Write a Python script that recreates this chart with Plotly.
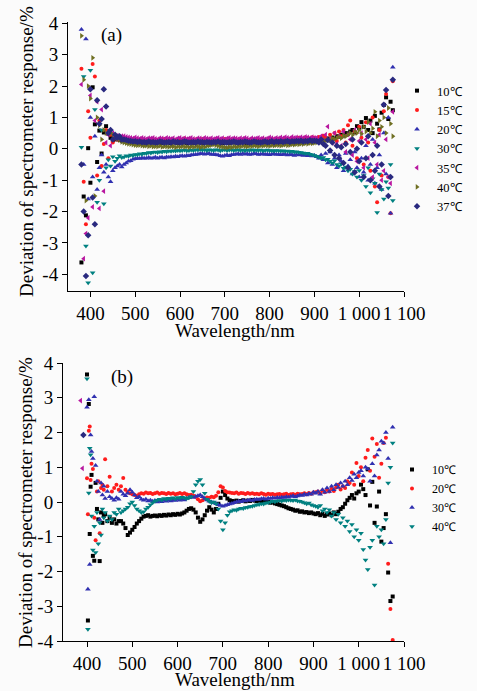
import plotly.graph_objects as go

# ---------------- wavelength grids (nm) ----------------
WL_A_LEFT = [380, 385, 390, 395, 400, 405, 410, 415, 420, 425,
             430, 435, 440, 445, 450, 455, 460, 465, 470]
WL_B_LEFT = [400, 402, 404, 406, 408, 410, 413, 416, 419, 422, 425,
             428, 431, 434, 437, 440, 445, 450, 455, 460, 465, 470]
WL_MID = [475, 480, 485, 490, 495, 500, 505, 510, 515, 520,
          525, 530, 535, 540, 545, 550, 555, 560, 565, 570,
          575, 580, 585, 590, 595, 600, 605, 610, 615, 620,
          625, 630, 635, 640, 645, 650, 655, 660, 665, 670,
          675, 680, 685, 690, 695, 700, 705, 710, 715, 720,
          725, 730, 735, 740, 745, 750, 755, 760, 765, 770,
          775, 780, 785, 790, 795, 800, 805, 810, 815, 820,
          825, 830, 835, 840, 845, 850, 855, 860, 865, 870,
          875, 880, 885, 890, 895, 900]
WL_RIGHT = [905, 910, 915, 920, 925, 930, 935, 940, 945, 950,
            955, 960, 965, 970, 975, 980, 985, 990, 995, 1000,
            1005, 1010, 1015, 1020, 1025, 1030, 1035, 1040, 1045, 1050,
            1055, 1060, 1065, 1070, 1075]

# ---------------- panel (a) ----------------
A10_LEFT = [-3.62, -1.52, -2.12, 0.02, -1.08, 1.96, 0.78, -0.42, 0.58, -0.15,
            0.52, 0.72, 0.48, 0.35, 0.28, 0.3, 0.32, 0.28, 0.26]
A10_MID = [0.24, 0.22, 0.2, 0.23, 0.19, 0.21, 0.2, 0.18, 0.22, 0.2,
           0.19, 0.21, 0.2, 0.22, 0.18, 0.2, 0.21, 0.19, 0.2, 0.22,
           0.2, 0.18, 0.21, 0.2, 0.19, 0.22, 0.2, 0.21, 0.18, 0.2,
           0.22, 0.19, 0.2, 0.21, 0.2, 0.18, 0.2, 0.22, 0.19, 0.21,
           0.2, 0.19, 0.22, 0.2, 0.18, 0.21, 0.2, 0.19, 0.22, 0.2,
           0.21, 0.19, 0.2, 0.22, 0.2, 0.18, 0.21, 0.2, 0.22, 0.19,
           0.2, 0.21, 0.22, 0.2, 0.19, 0.23, 0.21, 0.2, 0.22, 0.21,
           0.23, 0.2, 0.22, 0.24, 0.21, 0.23, 0.22, 0.25, 0.22, 0.24,
           0.23, 0.25, 0.24, 0.22, 0.26, 0.24]
A10_RIGHT = [0.25, 0.28, 0.24, 0.3, 0.27, 0.33, 0.3, 0.36, 0.32, 0.4,
             0.38, 0.45, 0.42, 0.5, 0.48, 0.55, 0.6, 0.52, 0.72, 0.65,
             0.85, 0.7, 0.98, 0.6, 0.9, 0.5, 1.05, 0.8, 0.62, 1.15,
             1.4, 1.64, 0.95, 1.5, 1.23]

A15_LEFT = [2.55, -1.05, -2.4, 1.2, 0.35, 2.7, 2.3, -0.85, 0.9, -0.55,
            0.15, 0.6, -0.3, 0.45, 0.2, 0.38, 0.3, 0.35, 0.3]
A15_MID = [0.3, 0.28, 0.27, 0.3, 0.29, 0.26, 0.28, 0.3, 0.27, 0.29,
           0.28, 0.31, 0.27, 0.29, 0.3, 0.28, 0.26, 0.29, 0.31, 0.28,
           0.27, 0.3, 0.29, 0.28, 0.3, 0.27, 0.29, 0.33, 0.28, 0.3,
           0.29, 0.27, 0.3, 0.28, 0.29, 0.31, 0.28, 0.27, 0.3, 0.29,
           0.28, 0.3, 0.27, 0.29, 0.28, 0.31, 0.29, 0.27, 0.3, 0.28,
           0.29, 0.3, 0.28, 0.27, 0.3, 0.29, 0.28, 0.31, 0.29, 0.28,
           0.3, 0.27, 0.29, 0.3, 0.28, 0.31, 0.29, 0.3, 0.32, 0.29,
           0.31, 0.3, 0.33, 0.31, 0.3, 0.34, 0.32, 0.31, 0.35, 0.33,
           0.32, 0.36, 0.34, 0.33, 0.37, 0.35]
A15_RIGHT = [0.33, 0.38, 0.3, 0.42, 0.35, 0.28, 0.45, 0.32, 0.5, 0.25,
             0.55, 0.4, 0.6, 0.2, 0.75, 0.9, 0.1, 0.55, -0.3, 0.7,
             0.35, -0.5, 0.85, 0.2, -0.7, 1.0, -1.2, -1.7, 0.6, -0.85,
             1.2, 1.75, -0.9, -2.05, 2.15]

A20_LEFT = [3.8, -0.5, 3.5, -1.6, 1.0, -0.9, 0.4, -1.3, -0.6, -0.2,
            -0.75, -0.5, -0.9, -1.05, -0.7, -0.6, -0.55, -0.5, -0.58]
A20_MID = [-0.5, -0.45, -0.4, -0.38, -0.33, -0.32, -0.3, -0.31, -0.29, -0.3,
           -0.3, -0.28, -0.3, -0.29, -0.27, -0.3, -0.28, -0.27, -0.29, -0.26,
           -0.27, -0.25, -0.26, -0.24, -0.25, -0.23, -0.22, -0.24, -0.21, -0.22,
           -0.2, -0.19, -0.18, -0.17, -0.16, -0.15, -0.17, -0.16, -0.15, -0.18,
           -0.17, -0.19, -0.2, -0.22, -0.24, -0.21, -0.2, -0.22, -0.19, -0.18,
           -0.17, -0.16, -0.18, -0.15, -0.17, -0.16, -0.18, -0.17, -0.15, -0.16,
           -0.18, -0.17, -0.16, -0.18, -0.17, -0.19, -0.17, -0.16, -0.18, -0.17,
           -0.19, -0.18, -0.17, -0.2, -0.18, -0.19, -0.21, -0.18, -0.2, -0.19,
           -0.21, -0.2, -0.22, -0.19, -0.23, -0.21]
A20_RIGHT = [-0.25, -0.3, -0.2, -0.35, -0.15, -0.45, -0.1, -0.5, -0.3, -0.6,
             -0.2, -0.4, -0.7, -0.15, -0.55, -0.35, -0.8, -0.1, -0.6, -0.9,
             -0.3, -0.75, 0.1, -1.0, -0.5, 0.3, -1.1, -0.6, -0.2, -1.3,
             0.5, -0.8, 1.0, -2.05, 2.6]

A30_LEFT = [0.05, 2.3, -3.1, -4.27, 2.5, -3.95, 1.25, -1.7, -1.0, 0.6,
            -1.75, -0.6, -0.35, -0.55, -0.25, -0.4, -0.3, -0.22, -0.28]
A30_MID = [-0.26, -0.22, -0.24, -0.2, -0.21, -0.18, -0.19, -0.16, -0.17, -0.14,
           -0.15, -0.12, -0.13, -0.11, -0.1, -0.12, -0.09, -0.1, -0.08, -0.09,
           -0.07, -0.08, -0.06, -0.07, -0.05, -0.06, -0.05, -0.04, -0.06, -0.05,
           -0.04, -0.05, -0.03, -0.04, -0.02, -0.04, -0.03, -0.05, -0.03, -0.04,
           -0.05, -0.03, -0.04, -0.06, -0.04, -0.03, -0.05, -0.04, -0.03, -0.05,
           -0.04, -0.03, -0.05, -0.04, -0.06, -0.04, -0.05, -0.03, -0.05, -0.04,
           -0.05, -0.04, -0.06, -0.05, -0.04, -0.06, -0.05, -0.07, -0.05, -0.06,
           -0.07, -0.06, -0.08, -0.07, -0.09, -0.08, -0.1, -0.09, -0.11, -0.12,
           -0.13, -0.15, -0.14, -0.17, -0.19, -0.21]
A30_RIGHT = [-0.24, -0.27, -0.3, -0.28, -0.35, -0.33, -0.4, -0.45, -0.38, -0.5,
             -0.55, -0.48, -0.62, -0.58, -0.7, -0.65, -0.8, -0.72, -0.9, -0.69,
             -1.0, -0.85, -1.2, -0.6, -1.4, -0.95, -1.1, -2.03, -0.8, -1.3,
             -1.6, -1.05, -1.25, -0.5, -1.65]

A35_LEFT = [2.05, -3.5, -2.7, -2.2, 1.7, -1.85, 0.9, 1.5, -1.9, 1.25,
            -1.35, 0.2, 0.45, 0.1, 0.5, 0.35, 0.42, 0.38, 0.4]
A35_MID = [0.4, 0.38, 0.36, 0.35, 0.33, 0.36, 0.34, 0.32, 0.35, 0.33,
           0.31, 0.34, 0.33, 0.35, 0.32, 0.3, 0.34, 0.33, 0.31, 0.35,
           0.33, 0.32, 0.34, 0.3, 0.33, 0.35, 0.32, 0.34, 0.31, 0.33,
           0.35, 0.32, 0.3, 0.34, 0.33, 0.31, 0.35, 0.33, 0.32, 0.34,
           0.31, 0.33, 0.35, 0.32, 0.34, 0.3, 0.33, 0.35, 0.32, 0.34,
           0.33, 0.31, 0.34, 0.32, 0.35, 0.33, 0.3, 0.34, 0.32, 0.33,
           0.35, 0.32, 0.34, 0.31, 0.33, 0.36, 0.34, 0.32, 0.35, 0.33,
           0.36, 0.34, 0.37, 0.35, 0.33, 0.38, 0.35, 0.36, 0.34, 0.37,
           0.35, 0.38, 0.36, 0.34, 0.37, 0.35]
A35_RIGHT = [0.35, 0.3, 0.4, 0.28, 0.45, 0.71, 0.32, 0.2, 0.5, 0.15,
             0.4, 0.1, 0.55, -0.1, 0.45, 0.3, -0.2, 0.6, -0.4, 0.25,
             0.5, -0.6, 0.3, -0.3, 0.8, -0.9, 0.2, -0.5, 0.45, -1.0,
             -0.7, 0.3, -0.9, -1.1, 1.18]

A40_LEFT = [3.6, 2.2, -1.65, 2.0, 1.6, 2.9, -1.5, 1.0, 0.75, 0.3,
            0.6, 0.5, 0.55, 0.5, 0.45, 0.4, 0.32, 0.28, 0.22]
A40_MID = [0.2, 0.18, 0.16, 0.15, 0.13, 0.12, 0.11, 0.12, 0.1, 0.09,
           0.1, 0.08, 0.09, 0.07, 0.08, 0.07, 0.09, 0.06, 0.08, 0.07,
           0.06, 0.08, 0.07, 0.05, 0.07, 0.06, 0.08, 0.06, 0.07, 0.05,
           0.07, 0.06, 0.08, 0.07, 0.05, 0.07, 0.06, 0.09, 0.1, 0.12,
           0.13, 0.11, 0.09, 0.07, 0.06, 0.05, 0.04, 0.06, 0.05, 0.07,
           0.06, 0.08, 0.07, 0.09, 0.08, 0.07, 0.09, 0.08, 0.1, 0.09,
           0.08, 0.1, 0.09, 0.11, 0.1, 0.09, 0.11, 0.1, 0.12, 0.11,
           0.1, 0.12, 0.13, 0.11, 0.12, 0.14, 0.13, 0.15, 0.14, 0.16,
           0.15, 0.17, 0.16, 0.18, 0.17, 0.19]
A40_RIGHT = [0.2, 0.22, 0.25, 0.23, 0.27, 0.3, 0.28, 0.33, 0.31, 0.35,
             0.38, 0.34, 0.42, 0.4, 0.45, 0.5, 0.44, 0.55, 0.5, 0.6,
             0.48, 0.7, 0.55, 0.85, 0.5, 0.65, 1.18, 0.4, 0.9, 0.7,
             1.0, 0.5, 1.3, 0.8, 0.4]

A37_LEFT = [-0.5, -2.0, -4.05, -2.75, 1.9, -1.55, -2.4, 1.55, 0.8, 0.95,
            1.9, 1.35, 0.5, 0.6, 0.3, 0.45, 0.35, 0.4, 0.3]
A37_MID = [0.3, 0.28, 0.26, 0.25, 0.23, 0.24, 0.22, 0.23, 0.21, 0.22,
           0.2, 0.23, 0.21, 0.22, 0.2, 0.21, 0.23, 0.22, 0.2, 0.21,
           0.22, 0.2, 0.23, 0.21, 0.22, 0.2, 0.21, 0.23, 0.22, 0.2,
           0.21, 0.22, 0.2, 0.23, 0.21, 0.22, 0.2, 0.22, 0.21, 0.2,
           0.22, 0.21, 0.23, 0.2, 0.22, 0.21, 0.2, 0.22, 0.21, 0.23,
           0.21, 0.2, 0.22, 0.21, 0.23, 0.22, 0.2, 0.21, 0.23, 0.22,
           0.21, 0.2, 0.22, 0.23, 0.21, 0.22, 0.24, 0.21, 0.23, 0.22,
           0.24, 0.22, 0.23, 0.25, 0.22, 0.24, 0.23, 0.25, 0.24, 0.26,
           0.23, 0.25, 0.24, 0.27, 0.25, 0.26]
A37_RIGHT = [0.25, 0.2, 0.3, 0.15, 0.1, 0.28, -0.05, 0.2, -0.2, 0.1,
             -0.3, 0.05, -0.45, 0.15, -0.6, -0.1, 0.3, -0.75, 0.0, -0.4,
             0.2, -0.9, -0.3, 0.4, -1.0, -0.2, -0.7, 0.1, -1.2, -0.5,
             1.4, 1.87, -1.5, -0.9, 2.2]

# ---------------- panel (b) ----------------
B10_LEFT = [3.67, -3.41, 2.82, -0.92, 0.44, 0.78, -1.55, -1.69, 0.55, -0.2, -0.5,
            -1.7, -0.3, -0.6, -0.4, -0.35, -0.55, -0.45, -0.6, -0.5, -0.62, -0.55]
B10_MID = [-0.55, -0.62, -0.75, -0.95, -0.88, -0.8, -0.72, -0.62, -0.55, -0.48,
           -0.42, -0.4, -0.38, -0.42, -0.4, -0.39, -0.41, -0.38, -0.4, -0.37,
           -0.39, -0.36, -0.38, -0.35, -0.37, -0.34, -0.36, -0.33, -0.3, -0.25,
           -0.2, -0.18, -0.22, -0.3, -0.45, -0.57, -0.5, -0.38, -0.25, -0.15,
           -0.22, -0.3, -0.2, -0.05, 0.12, 0.3, 0.2, 0.1, 0.05, 0.03,
           0.02, 0.04, 0.01, 0.03, 0.05, 0.02, 0.04, 0.03, 0.06, 0.04,
           0.03, 0.05, 0.02, 0.04, 0.01, 0.0, -0.02, -0.01, -0.04, -0.06,
           -0.08, -0.1, -0.12, -0.15, -0.18, -0.2, -0.22, -0.25, -0.24, -0.28,
           -0.27, -0.3, -0.29, -0.32, -0.3, -0.33]
B10_RIGHT = [-0.35, -0.32, -0.38, -0.34, -0.4, -0.36, -0.33, -0.38, -0.3, -0.35,
             -0.28, -0.2, -0.15, -0.05, 0.05, 0.12, 0.2, 0.1, 0.25, 0.3,
             0.5, 0.37, 0.2, 0.94, -0.1, 0.58, -0.6, -0.13, 0.3, -1.14,
             -0.75, -0.35, -2.03, -2.85, -2.72]

B20_LEFT = [0.68, -0.35, 2.05, 2.17, 0.63, 1.1, 0.95, -0.45, -1.1, 0.3, 0.6,
            -0.9, 0.4, 0.5, 0.35, 1.23, 0.45, 0.73, 0.3, 0.4, 0.5, 0.35]
B20_MID = [0.45, 0.69, 0.35, 0.28, 0.25, 0.22, 0.2, 0.18, 0.22, 0.25,
           0.24, 0.27, 0.25, 0.26, 0.23, 0.25, 0.27, 0.24, 0.26, 0.25,
           0.23, 0.26, 0.24, 0.25, 0.22, 0.24, 0.26, 0.23, 0.25, 0.22,
           0.2, 0.21, 0.18, 0.15, 0.08, 0.02, 0.05, 0.1, 0.13, 0.12,
           0.15, 0.14, 0.18, 0.28, 0.45, 0.42, 0.32, 0.28, 0.27, 0.26,
           0.25, 0.27, 0.24, 0.26, 0.25, 0.23, 0.26, 0.24, 0.25, 0.23,
           0.24, 0.22, 0.25, 0.23, 0.21, 0.24, 0.22, 0.23, 0.21, 0.22,
           0.23, 0.21, 0.22, 0.24, 0.2, 0.22, 0.23, 0.21, 0.24, 0.22,
           0.23, 0.25, 0.22, 0.26, 0.24, 0.27]
B20_RIGHT = [0.28, 0.3, 0.25, 0.33, 0.28, 0.35, 0.3, 0.38, 0.32, 0.42,
             0.5, 0.36, 0.45, 0.4, 0.6, 0.55, 0.85, 0.5, 1.12, 0.75,
             1.0, 0.6, 1.27, 1.5, 0.9, 1.83, 1.3, 1.67, 0.7, 1.1,
             1.7, 1.85, -1.78, -3.08, -3.97]

B30_LEFT = [2.73, -2.51, 2.94, -1.8, 1.93, 1.45, 1.25, 3.03, 1.05, 0.6, 0.3,
            -0.5, 0.55, 0.2, 0.45, 0.1, 0.3, 0.15, 0.1, 0.05, 0.12, 0.08]
B30_MID = [0.3, 0.22, 0.18, 0.25, 0.35, 0.28, 0.2, 0.12, 0.15, 0.08,
           0.05, 0.08, 0.03, 0.05, 0.02, 0.04, 0.0, 0.03, 0.01, 0.04,
           0.02, 0.05, 0.03, 0.06, 0.04, 0.07, 0.05, 0.08, 0.06, 0.1,
           0.12, 0.15, 0.13, 0.16, 0.18, 0.2, 0.15, 0.1, 0.06, 0.02,
           0.0, -0.02, -0.05, -0.08, -0.1, -0.12, -0.1, -0.08, -0.06, -0.04,
           -0.02, 0.0, 0.02, 0.01, 0.04, 0.03, 0.05, 0.06, 0.04, 0.07,
           0.08, 0.07, 0.09, 0.1, 0.08, 0.11, 0.1, 0.12, 0.11, 0.13,
           0.12, 0.14, 0.13, 0.15, 0.14, 0.16, 0.18, 0.15, 0.17, 0.2,
           0.19, 0.22, 0.2, 0.24, 0.22, 0.28]
B30_RIGHT = [0.25, 0.3, 0.22, 0.35, 0.28, 0.4, 0.3, 0.45, 0.35, 0.5,
             0.42, 0.55, 0.45, 0.6, 0.5, 0.7, 0.62, 0.8, 0.7, 0.85,
             0.9, 0.75, 1.0, 0.95, 0.6, 1.1, 0.75, 1.35, 1.5, 1.75,
             1.7, 2.0, 1.25, -1.17, 2.15]

B40_LEFT = [3.55, -3.66, 0.26, 1.55, 1.36, -0.4, -1.38, -0.7, -1.45, -0.3, -1.2,
            -0.6, -0.95, -0.2, -0.45, -0.3, -0.55, -0.4, -0.5, -0.3, -0.35, -0.2]
B40_MID = [-0.3, -0.25, -0.2, -0.15, -0.05, 0.0, -0.1, -0.2, -0.25, -0.3,
           -0.28, -0.2, -0.15, -0.08, -0.02, 0.02, 0.05, 0.08, 0.06, 0.1,
           0.08, 0.11, 0.1, 0.12, 0.09, 0.13, 0.11, 0.14, 0.12, 0.1,
           0.12, 0.15, 0.3, 0.5, 0.6, 0.65, 0.5, 0.25, 0.08, 0.02,
           -0.02, 0.0, -0.05, -0.2, -0.55, -0.8, -0.6, -0.38, -0.28, -0.25,
           -0.22, -0.24, -0.2, -0.18, -0.19, -0.16, -0.15, -0.13, -0.12, -0.1,
           -0.08, -0.07, -0.05, -0.06, -0.03, -0.02, 0.0, 0.02, 0.01, 0.03,
           0.04, 0.03, 0.05, 0.04, 0.06, 0.05, 0.04, 0.06, 0.03, 0.02,
           0.0, -0.02, -0.05, -0.03, -0.08, -0.1]
B40_RIGHT = [-0.12, -0.15, -0.1, -0.25, -0.2, -0.3, -0.22, -0.4, -0.3, -0.5,
             -0.35, -0.6, -0.45, -0.7, -0.55, -0.85, -0.65, -1.0, -0.8, -1.1,
             -0.9, -1.37, -1.67, -1.94, -1.3, -1.1, -2.39, -0.7, -1.0, -0.8,
             -1.2, -0.5, 0.55, 1.0, 1.7]

# stray points of other temperatures visible in panel (b)
B35_WL = [386, 390]
B35_VAL = [2.92, 0.97]
B37_WL = [392]
B37_VAL = [1.93]

TICK_VALS_X = [400, 500, 600, 700, 800, 900, 1000, 1100]
TICK_TEXT_X = ["400", "500", "600", "700", "800", "900", "1 000", "1 100"]
TICK_VALS_Y = [-4, -3, -2, -1, 0, 1, 2, 3, 4]
TICK_TEXT_Y = ["-4", "-3", "-2", "-1", "0", "1", "2", "3", "4"]

FONT = "Liberation Serif"
W, H = 477, 691


def join(*pairs):
    xs, ys = [], []
    for wl, vals in pairs:
        n = min(len(wl), len(vals))
        xs += list(wl[:n])
        ys += list(vals[:n])
    return xs, ys


COL = {
    "black": "#000000", "red": "#ff1c1c", "blue": "#3030b0", "teal": "#008080",
    "magenta": "#b8169f", "olive": "#6f6f22", "navy": "#29297f",
}

fig = go.Figure()

series_a = [
    ("10℃", A10_LEFT, A10_MID, A10_RIGHT, "square", COL["black"], 4),
    ("15℃", A15_LEFT, A15_MID, A15_RIGHT, "circle", COL["red"], 4),
    ("20℃", A20_LEFT, A20_MID, A20_RIGHT, "triangle-up", COL["blue"], 5),
    ("30℃", A30_LEFT, A30_MID, A30_RIGHT, "triangle-down", COL["teal"], 5),
    ("35℃", A35_LEFT, A35_MID, A35_RIGHT, "triangle-left", COL["magenta"], 5),
    ("40℃", A40_LEFT, A40_MID, A40_RIGHT, "triangle-right", COL["olive"], 5),
    ("37℃", A37_LEFT, A37_MID, A37_RIGHT, "diamond", COL["navy"], 5),
]
for name, l, m, r, sym, col, sz in series_a:
    xs, ys = join((WL_A_LEFT, l), (WL_MID, m), (WL_RIGHT, r))
    fig.add_trace(go.Scatter(
        x=xs, y=ys, mode="markers", name=name, xaxis="x", yaxis="y", legend="legend",
        marker=dict(symbol=sym, size=sz, color=col, line=dict(width=0))))

xs, ys = join((B35_WL, B35_VAL))
fig.add_trace(go.Scatter(x=xs, y=ys, mode="markers", showlegend=False, xaxis="x2", yaxis="y2",
                         marker=dict(symbol="triangle-left", size=5, color=COL["magenta"], line=dict(width=0))))
xs, ys = join((B37_WL, B37_VAL))
fig.add_trace(go.Scatter(x=xs, y=ys, mode="markers", showlegend=False, xaxis="x2", yaxis="y2",
                         marker=dict(symbol="diamond", size=5, color=COL["navy"], line=dict(width=0))))

series_b = [
    ("10℃", B10_LEFT, B10_MID, B10_RIGHT, "square", COL["black"], 4),
    ("20℃", B20_LEFT, B20_MID, B20_RIGHT, "circle", COL["red"], 4),
    ("30℃", B30_LEFT, B30_MID, B30_RIGHT, "triangle-up", COL["blue"], 5),
    ("40℃", B40_LEFT, B40_MID, B40_RIGHT, "triangle-down", COL["teal"], 5),
]
for name, l, m, r, sym, col, sz in series_b:
    xs, ys = join((WL_B_LEFT, l), (WL_MID, m), (WL_RIGHT, r))
    fig.add_trace(go.Scatter(
        x=xs, y=ys, mode="markers", name=name, xaxis="x2", yaxis="y2", legend="legend2",
        marker=dict(symbol=sym, size=sz, color=col, line=dict(width=0))))


def px_x(p):
    return p / W


def px_y(p):
    return 1 - p / H


axis_common = dict(showline=True, linecolor="black", linewidth=1, ticks="outside", ticklen=5,
                   tickwidth=1, tickcolor="black", showgrid=False, zeroline=False,
                   tickfont=dict(family=FONT, size=19, color="black"), mirror=False)

fig.update_layout(
    width=W, height=H, margin=dict(l=0, r=0, t=0, b=0, autoexpand=False),
    paper_bgcolor="#fbfbfb", plot_bgcolor="#fbfbfb",
    font=dict(family=FONT, color="black"),
    xaxis=dict(domain=[px_x(68), px_x(404)], range=[350, 1100], anchor="y",
               tickvals=TICK_VALS_X, ticktext=TICK_TEXT_X, tickangle=0, **axis_common),
    yaxis=dict(domain=[px_y(291), px_y(22)], range=[-4.53, 4.04], anchor="x",
               tickvals=TICK_VALS_Y, ticktext=TICK_TEXT_Y, **axis_common),
    xaxis2=dict(domain=[px_x(63), px_x(404)], range=[347, 1100], anchor="y2",
                tickvals=TICK_VALS_X, ticktext=TICK_TEXT_X, tickangle=0, **axis_common),
    yaxis2=dict(domain=[px_y(641), px_y(363)], range=[-4, 4], anchor="x2",
                tickvals=TICK_VALS_Y, ticktext=TICK_TEXT_Y, **axis_common),
    legend=dict(x=px_x(397), y=px_y(76), xanchor="left", yanchor="top",
                bgcolor="rgba(0,0,0,0)", font=dict(family=FONT, size=12.5, color="black"),
                itemwidth=30, tracegroupgap=0),
    legend2=dict(x=px_x(392), y=px_y(455), xanchor="left", yanchor="top",
                 bgcolor="rgba(0,0,0,0)", font=dict(family=FONT, size=12, color="black"),
                 itemwidth=30, tracegroupgap=0),
    showlegend=True,
)

ann_font = dict(family=FONT, size=19, color="black")
annotations = [
    dict(text="(a)", x=px_x(111), y=px_y(35)),
    dict(text="(b)", x=px_x(122), y=px_y(377)),
    dict(text="Wavelength/nm", x=px_x(235), y=px_y(330)),
    dict(text="Wavelength/nm", x=px_x(235), y=px_y(679)),
    dict(text="Deviation of spectrometer response/%", x=px_x(27), y=px_y(152), textangle=-90),
    dict(text="Deviation of spectrometer response/%", x=px_x(25), y=px_y(503), textangle=-90),
]
for a in annotations:
    fig.add_annotation(xref="paper", yref="paper", showarrow=False, xanchor="center",
                       yanchor="middle", font=ann_font, **a)

fig.write_html("out.html")
